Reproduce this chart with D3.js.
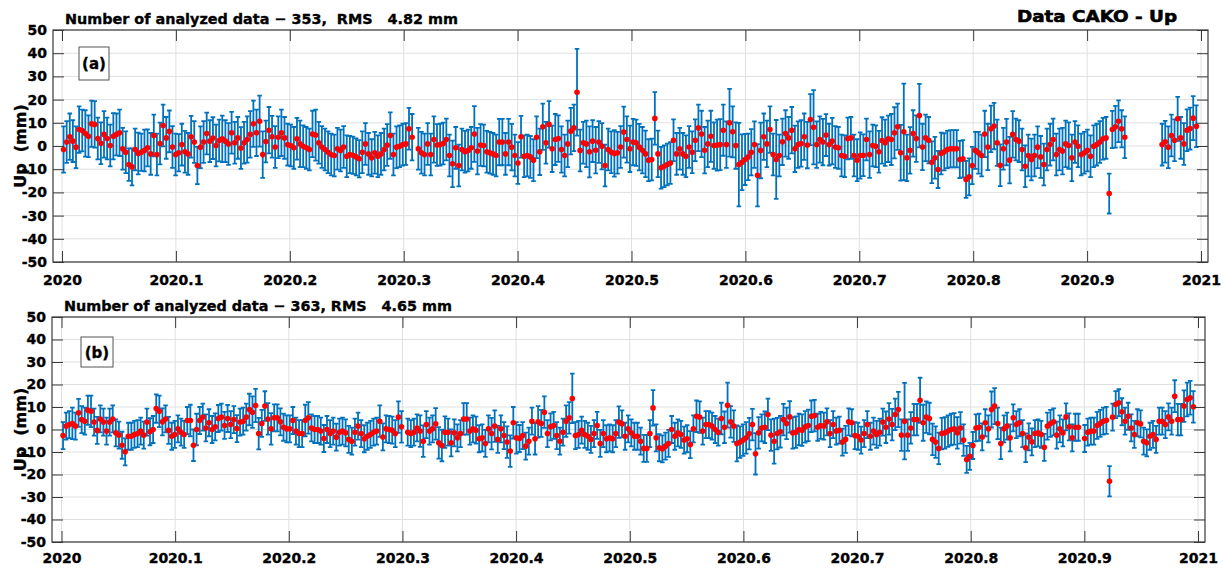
<!DOCTYPE html>
<html>
<head>
<meta charset="utf-8">
<script src="https://cdn.jsdelivr.net/npm/d3@7"></script>
<style>
  body { margin: 0; background: #fff; }
  text { font-family: "DejaVu Sans", sans-serif; font-weight: bold; }
  .heavy { stroke: #000; stroke-width: 0.35px; }
</style>
</head>
<body>
<div id="chart"></div>
<script>
// tick values / labels
const xTicks = [2020, 2020.1, 2020.2, 2020.3, 2020.4, 2020.5, 2020.6, 2020.7, 2020.8, 2020.9, 2021];
const xTickLabels = ["2020", "2020.1", "2020.2", "2020.3", "2020.4", "2020.5", "2020.6", "2020.7", "2020.8", "2020.9", "2021"];
const yTicks = [-50, -40, -30, -20, -10, 0, 10, 20, 30, 40, 50];
const daysInYear = 366;

// daily Up values (mm), panel (a), null = no solution that day
const upA = [
  -1.5, 1.7, 4.0, 2.1, -0.5, 7.1, 6.7, 5.4, 4.2, 9.6,
  9.3, 3.2, 1.2, 5.0, 3.2, 0.2, 4.2, 5.0, 5.7, -1.2,
  -2.7, -8.0, -9.0, -1.5, -3.2, -2.7, -1.9, -0.8, -3.4, 4.5,
  -3.7, 1.1, 8.8, 3.5, 6.3, -0.4, -3.7, -2.9, 0.6, -2.5,
  -3.4, 4.0, 1.7, -8.4, -0.5, 1.7, 5.4, 2.1, 3.4, 0.2,
  2.4, 3.1, 2.1, 0.9, 5.7, 1.4, 3.5, -0.9, 1.4, 2.8,
  5.0, 9.6, 5.7, 10.7, -3.7, 1.9, 6.8, 4.0, -0.4, 3.8,
  5.7, 3.5, 0.6,
  0.2, -0.8, 3.1, 0.9, -0.1, -0.8, -1.5, 5.2, 4.7, 1.4,
  -0.4, -1.5, -2.7, -3.7, -4.1, -1.2, -1.9, -0.4, -4.4, -3.7,
  -4.0, -4.7, -5.5, -2.7, 0.9, -3.4, -5.1, -2.9, -4.4, -3.4,
  -1.5, 0.4, 4.5, -3.7, -0.5, -0.1, 0.6, 0.9, 7.4, 3.8,
  null,
  -1.2, -2.9, -3.7, 0.9, -3.7, 2.8, 0.4, 0.6, 1.1, 2.8,
  -4.1, -7.7, -0.8, -8.4, -1.5, -2.5, -1.9, -0.8, 5.2, -2.2,
  0.4, 0.2, -2.5, -2.9, -3.4, -4.1, 1.7, 1.7, -3.4, 1.7,
  -0.5, -4.1, -7.3, 4.0, -4.4, -4.1,
  -4.7, -6.1, 3.8, -2.5, 8.3, 1.4, 9.3, -1.2, 2.8, 3.2,
  -1.5, -4.1, 0.9, 6.4, 7.8, 23.2, -1.9, 1.4, 0.9, -2.5,
  2.1, -1.8, 1.7, -0.1, -8.4, -1.5, -2.7, -3.2, -2.9, -0.4,
  6.0, 2.8, -1.2, 1.7, 1.4, -0.5, -1.8, -3.4, -6.1, -5.8,
  11.9, -3.4, -9.4, -8.7, -8.0, -7.3, 2.5, -3.4, -1.2, -3.4,
  -4.4, -0.4, -2.7, 2.5, 7.8, 5.2, -1.8, 0.9, 4.2, 0.2,
  0.4, 0.6, 6.8, 0.6, 10.0, 6.1, 0.2, -8.0, -7.0, -5.8,
  -4.7, -2.7, 0.6, -12.6, -1.9, 4.0,
  0.9, 7.1, -3.7, -5.8, -4.1, 1.8, 5.4, 3.5, 6.8, -1.2,
  0.6, 1.1, 4.0, 0.4, 11.4, 8.1, 0.6, 2.8, 1.7, 4.7,
  0.6, 2.1, -0.4, -0.8, -4.1, -4.4, 3.2, 3.5, -4.1, -6.1,
  -4.1, -4.0, 2.8, -3.7, 0.2, -0.1, -2.5, 2.4, 1.4, 3.1,
  2.8, 5.7, 8.3, -2.9, 6.1, -5.1, -1.9, 5.4, 3.2, 13.1,
  -0.4, 3.5, 2.5, -7.0, -5.1, -10.1, -3.2, -2.5, -1.5, -1.2,
  -1.2, -1.2, -5.8, -5.5, -14.4, -13.3, -8.4, -1.9, -2.9, -4.1,
  5.2, -0.4, 7.4, 8.6,
  1.4, -8.3, -1.2, 1.7, -6.1, 5.0, 2.8, 2.1, -1.5, -8.7,
  -4.1, -5.8, -4.1, -0.5, -4.7, -8.0, -1.5, 0.6, 2.8, -3.7,
  -1.5, -2.2, 0.9, 0.2, -5.1, 1.7, -0.1, -3.7, -2.9, -1.9,
  -4.4, -0.1, 0.6, 1.7, 3.1, 3.5, -20.5, 7.1, 8.3, 10.7,
  7.4, 3.8,
  null, null, null, null, null, null, null, null, null, null, null,
  0.6, 1.8, -0.5, 4.5, 2.5, 11.7, 3.5, 0.9, 6.8, 7.5, 12.0, 8.5,
  null
];

// formal error (mm), panel (a)
const sigA = [
  10, 9, 10, 9, 9, 10, 9, 10, 9, 10,
  10, 9, 9, 10, 9, 9, 10, 9, 10, 9,
  9, 7, 8, 9, 9, 8, 9, 8, 9, 9,
  9, 9, 9, 9, 9, 9, 9, 8, 9, 9,
  9, 9, 9, 8, 9, 9, 9, 9, 9, 9,
  9, 10, 9, 9, 9, 9, 9, 9, 9, 10,
  10, 10, 10, 11, 10, 9, 10, 9, 9, 9,
  10, 9, 9,
  9, 9, 9, 10, 9, 9, 9, 10, 11, 9,
  9, 9, 9, 9, 9, 9, 9, 9, 9, 8,
  8, 8, 8, 9, 9, 9, 8, 9, 9, 9,
  9, 9, 10, 9, 9, 9, 9, 9, 9, 10,
  null,
  9, 9, 9, 9, 9, 10, 9, 9, 9, 9,
  9, 10, 9, 9, 9, 9, 9, 9, 12, 10,
  9, 9, 9, 9, 9, 9, 10, 10, 9, 10,
  10, 9, 9, 9, 9, 9,
  9, 9, 9, 10, 10, 9, 10, 10, 11, 10,
  10, 9, 10, 10, 10, 18.7, 9, 9, 10, 11,
  9, 10, 9, 10, 9, 9, 9, 10, 9, 9,
  11, 10, 10, 10, 10, 10, 10, 10, 9, 9,
  11.3, 10, 9, 9, 9, 9, 9, 9, 9, 9,
  9, 9, 9, 9, 10, 10, 10, 10, 11, 10,
  11, 11, 11, 10, 14.6, 11, 10, 18, 12, 11,
  10, 10, 10, 13.4, 12, 10,
  10, 10, 9, 17, 9, 10, 10, 9, 10, 10,
  10, 10, 10, 10, 11, 16, 10, 10, 10, 9,
  9, 10, 9, 9, 9, 9, 9, 9, 9, 9,
  10, 9, 9, 10, 9, 9, 9, 10, 10, 10,
  11, 11, 10, 12, 20.8, 10, 10, 10, 10, 13.7,
  10, 10, 10, 9, 9, 8, 9, 8, 8, 8,
  8, 8, 8, 8, 8, 8, 8, 8, 9, 9,
  10, 10, 10, 10,
  10, 9, 9, 10, 10, 10, 9, 9, 9, 9,
  9, 9, 9, 9, 9, 9, 9, 9, 9, 9,
  9, 10, 10, 10, 10, 9, 9, 9, 9, 9,
  9, 9, 9, 9, 9, 9, 8.6, 8, 9, 9,
  8, 9,
  null, null, null, null, null, null, null, null, null, null, null,
  9, 9, 9, 9, 9, 9.5, 9, 9, 9, 9, 9.5, 9,
  null
];

// daily Up values (mm), panel (b)
const upB = [
  -2.7, 1.5, 2.2, 2.7, 1.5, 7.4, 4.4, 3.7, 8.6, 8.1,
  3.3, -0.4, 4.7, 3.3, -0.7, 3.3, 4.7, -1.5, -2.5, -7.0,
  -9.9, -3.0, -3.0, -2.2, -1.8, -0.7, -2.5, 3.3, -1.0, 0.0,
  9.3, 8.1, 3.4, 4.7, -0.4, -3.0, -2.2, 0.3, -1.2, -2.2,
  4.0, 4.0, -7.0, 0.0, 4.0, 5.5, 0.7, 3.0, 0.0, 1.2,
  4.9, 5.5, 1.8, 4.9, 2.2, 4.4, 0.4, 3.3, 3.7, 5.5,
  8.9, 7.7, 10.7, -1.8, 2.7, 10.4, 4.7, 0.3, 5.2, 5.2,
  3.4, 1.0, 0.3, 0.3,
  4.0, -0.7, -1.8, -1.8, 4.0, 5.2, 0.7, 0.0, 0.0, -0.7,
  -4.0, 0.0, -1.8, -0.7, -3.4, -1.2, -0.7, -1.5, -4.4, -5.2,
  -1.2, 1.5, -1.8, -4.1, -3.0, -2.2, -1.2, -0.7, 3.7, -3.3,
  0.3, 0.0, -0.3, -1.8, 5.5, 1.2, null,
  -1.2, -1.8, -1.2, 0.7, -0.7, -5.2, 2.2, -0.7, 0.3, 2.5,
  -5.9, -7.1, -1.2, -1.2, -5.9, -1.5, -3.7, -1.8, 4.7, 4.7,
  -0.7, 0.3, -0.3, -4.1, -3.7, -6.2, 0.3, -1.8, 1.5, -4.4,
  0.3, -2.7, -5.6, -9.6, 3.0, -3.7, -4.0, -2.7, -7.4,
  -5.2, 3.7, -4.1, 3.4, 2.7, 7.7, -1.8, 1.2, 1.8, -2.7,
  -5.2, -1.2, 3.7, 5.2, 13.8, -2.7, -2.2, -0.3, -2.2, -3.0,
  -4.4, -1.8, 1.8, -6.2, -1.8, -4.1, -3.7, -4.1, -1.8, 3.3,
  2.5, -3.0, 0.3, -1.5, -3.0, -3.0, -5.2, -8.4, -8.4, -1.8,
  9.6, -3.7, -8.1, -8.6, -7.4, -6.2, 0.0, -3.0, -1.5, -2.2,
  -4.7, -4.1, -6.7, 0.3, 5.9, 5.5, -0.7, 2.2, 2.2, 1.5,
  0.0, -1.2, 4.9, 1.0, 10.8, 3.4, 1.5, -6.2, -5.6, -4.7,
  -3.7, -1.8, 2.2, -10.8, -1.5, 0.7,
  1.0, 6.7, -2.5, -5.2, -1.8, -1.0, 4.4, 2.7, 5.6, -1.5,
  -1.2, 0.0, -0.3, 1.2, 1.8, 5.9, 6.2, 1.0, 1.8, 1.5,
  3.4, -1.8, 2.2, -0.7, -0.3, -5.6, -4.4, 3.4, 3.0, -2.7,
  -3.0, -4.7, -1.8, 2.2, -3.0, -0.7, -2.2, -1.2, 3.3, 1.0,
  4.7, 2.2, 6.7, 8.9, -2.5, 3.7, -2.5, 0.7, 4.4, 4.4,
  13.0, 3.0, 5.5, 4.9, -4.4, -5.6, -8.4, -1.8, -1.5, -0.7,
  0.0, 0.3, -1.5, 0.7, -4.7, -13.3, -11.9, -7.1, 0.7, 1.0,
  -3.3, 3.0, 0.3, 8.9, 10.4, 2.7, -6.2, 0.3, 1.5, -3.7,
  5.2, 2.2, 3.0, -1.8, -8.1, -3.3, -5.5, -1.8, -1.5, -2.2,
  -7.9, 1.5, 2.7, 3.4, -2.5, 0.3, -1.5, 5.6, 1.2, -3.7,
  1.0, 1.0, null, -4.0, -1.2, -0.7, -0.7, 1.8, 2.7, 3.7,
  4.1, -23.0, 5.5, 11.1, 11.9, 7.9, 3.7, 5.9, 0.7, -2.2,
  3.0, 2.5, -5.2, -5.9, -3.0, -2.2, -4.4, 3.7, 3.7, 2.2,
  5.6, 3.7, 14.8, 4.4, 4.4, 10.4, 13.3, 14.1, 10.1,
  null
];

// formal error (mm), panel (b)
const sigB = [
  6, 6, 6, 7, 6, 6.2, 6, 6, 6.5, 7,
  6, 6, 6, 6, 6, 6, 6, 6, 6, 6,
  6, 6, 6, 6, 6, 6, 6, 6, 6, 6,
  6.3, 7, 6, 6, 6, 6, 6, 6, 6, 6,
  6, 7, 7, 7, 6, 6, 6, 6, 6, 6,
  6, 6, 6, 6, 6, 6, 6, 6, 6, 6,
  7, 7, 7.4, 7, 6, 6.6, 7, 7, 6, 6,
  6, 6, 6, 6,
  6, 6, 6, 6, 7, 7, 6, 6, 6, 6,
  6, 6, 6, 6, 6, 6, 6, 6, 6, 6,
  6, 6, 6, 6, 6, 6, 6, 6, 7, 6,
  6, 6, 6, 6, 7, 7, null,
  6, 6, 6, 6, 7, 7, 6, 6, 6, 7,
  7, 7, 7, 6, 6, 6, 6, 6, 7, 7,
  6, 6, 6, 6, 6, 6, 6, 7, 7, 6,
  6, 6, 7, 7, 7, 7, 6, 6, 6,
  6, 6, 7, 7, 6, 7, 6, 6, 6, 6,
  6, 6, 7, 7, 11, 6, 6, 6, 6, 6,
  6, 6, 6, 6, 6, 6, 6, 6, 6, 7,
  6, 6, 6, 6, 6, 6, 6, 6, 6, 6,
  7.9, 6, 6, 6, 6, 6, 6, 6, 6, 6,
  6, 6, 6, 6, 7, 7, 6, 6, 6, 6,
  6, 6, 7, 7, 10, 7, 7, 8, 7, 7,
  7, 7, 7, 9.2, 7, 6,
  7, 7, 7, 10, 7, 7, 7, 7, 7, 7,
  7, 7, 7, 7, 7, 7, 7, 6, 6, 6,
  6, 6, 6, 6, 6, 6, 6, 6, 6, 6,
  6, 6, 6, 6, 6, 6, 6, 6, 6, 7,
  7, 7, 7, 7.8, 7, 17, 7, 7, 7, 7,
  10, 8, 7, 7, 7, 7, 7, 7, 7, 7,
  7, 7, 7, 7, 7, 6, 6, 6, 6, 6,
  6, 6, 6, 8, 8, 7, 7, 6, 6, 6,
  6, 6, 6, 6, 6.4, 6, 6, 6, 6, 6,
  6, 6, 6, 6, 6, 6, 6, 6, 6, 6,
  6, 6, null, 6, 6, 6, 6, 6, 6, 6,
  6, 6.7, 6, 6, 6, 6, 6, 6, 6, 6,
  6, 6, 6, 6, 6, 6, 6, 6, 6, 6,
  6, 6, 7.1, 7, 7, 7, 7.5, 7.5, 7,
  null
];

const barColor = "#0072bd";
const dotColor = "#ff0000";
const axisColor = "#3a3a3a";
const gridColor = "#e0e0e0";

const svg = d3.select("#chart").append("svg")
  .attr("width", 1223).attr("height", 570);

const panels = [
  {values: upA, sig: sigA, tag: "(a)",
   title: "Number of analyzed data \u2212 353,  RMS   4.82 mm", titleX: 65, titleY: 24, titleLen: 393,
   boxL: 53, boxR: 1208, x0: 62, x1: 1201, yTop: 30, yBot: 262, xPad: 13,
   tagBox: [79, 47, 30, 33]},
  {values: upB, sig: sigB, tag: "(b)",
   title: "Number of analyzed data \u2212 363, RMS   4.65 mm", titleX: 64, titleY: 311, titleLen: 388,
   boxL: 52, boxR: 1205, x0: 61.5, x1: 1198, yTop: 317, yBot: 542, xPad: 11,
   tagBox: [81, 337, 32, 30]}
];

panels.forEach((p, pi) => {
  const x = d3.scaleLinear().domain([2020, 2021]).range([p.x0, p.x1]);
  const y = d3.scaleLinear().domain([-50, 50]).range([p.yBot, p.yTop]);
  const g = svg.append("g");

  const clipId = "clip" + pi;
  g.append("clipPath").attr("id", clipId).append("rect")
    .attr("x", p.boxL).attr("y", p.yTop).attr("width", p.boxR - p.boxL).attr("height", p.yBot - p.yTop);

  // grid
  g.append("g").selectAll("line").data(xTicks).join("line")
    .attr("x1", d => x(d)).attr("x2", d => x(d))
    .attr("y1", p.yTop).attr("y2", p.yBot)
    .attr("stroke", gridColor).attr("stroke-width", 1);
  g.append("g").selectAll("line").data(yTicks).join("line")
    .attr("x1", p.boxL).attr("x2", p.boxR)
    .attr("y1", d => y(d)).attr("y2", d => y(d))
    .attr("stroke", gridColor).attr("stroke-width", 1);

  const pts = p.values
    .map((v, i) => ({t: 2020 + (i + 0.5) / daysInYear, v: v, s: p.sig[i]}))
    .filter(d => d.v !== null);

  const plot = g.append("g").attr("clip-path", `url(#${clipId})`);

  // error bars
  plot.append("g").selectAll("path").data(pts).join("path")
    .attr("d", d => {
      const xx = x(d.t), y1 = y(d.v + d.s), y2 = y(d.v - d.s);
      return `M${xx},${y1}V${y2}M${xx - 2.3},${y1}H${xx + 2.3}M${xx - 2.3},${y2}H${xx + 2.3}`;
    })
    .attr("fill", "none").attr("stroke", barColor).attr("stroke-width", 1.8);

  // markers
  plot.append("g").selectAll("circle").data(pts).join("circle")
    .attr("cx", d => x(d.t)).attr("cy", d => y(d.v))
    .attr("r", 2.8).attr("fill", dotColor);

  // axes (ticks inward, box on)
  const styleAxis = sel => sel.attr("color", axisColor)
    .attr("font-family", "DejaVu Sans, sans-serif").attr("font-size", 14).attr("font-weight", "bold");

  const gx = g.append("g").attr("transform", `translate(0,${p.yBot})`)
    .call(d3.axisBottom(x).tickValues(xTicks).tickFormat((d, i) => xTickLabels[i])
      .tickSizeInner(-11).tickSizeOuter(0).tickPadding(p.xPad));
  styleAxis(gx);
  gx.selectAll("text").attr("fill", "#000").attr("class", "heavy");

  const gxt = g.append("g").attr("transform", `translate(0,${p.yTop})`)
    .call(d3.axisTop(x).tickValues(xTicks).tickFormat("").tickSizeInner(-11).tickSizeOuter(0));
  styleAxis(gxt);

  const gy = g.append("g").attr("transform", `translate(${p.boxL},0)`)
    .call(d3.axisLeft(y).tickValues(yTicks).tickFormat(d3.format("d"))
      .tickSizeInner(-11).tickSizeOuter(0).tickPadding(6));
  styleAxis(gy);
  gy.selectAll("text").attr("fill", "#000").attr("class", "heavy")
    .text(d => d < 0 ? "-" + Math.abs(d) : d);

  const gyr = g.append("g").attr("transform", `translate(${p.boxR},0)`)
    .call(d3.axisRight(y).tickValues(yTicks).tickFormat("").tickSizeInner(-11).tickSizeOuter(0));
  styleAxis(gyr);

  [gx, gxt, gy, gyr].forEach(a => a.select(".domain").remove());

  g.append("rect")
    .attr("x", p.boxL).attr("y", p.yTop)
    .attr("width", p.boxR - p.boxL).attr("height", p.yBot - p.yTop)
    .attr("fill", "none").attr("stroke", axisColor).attr("stroke-width", 1.2);

  // panel tag
  const [bx, by, bw, bh] = p.tagBox;
  g.append("rect").attr("x", bx).attr("y", by).attr("width", bw).attr("height", bh)
    .attr("fill", "#fff").attr("stroke", "#555").attr("stroke-width", 1);
  g.append("text").attr("x", bx + bw / 2).attr("y", by + bh / 2 + 5.5)
    .attr("class", "heavy")
    .attr("text-anchor", "middle").attr("font-size", 15).text(p.tag);

  // title
  g.append("text").attr("x", p.titleX).attr("y", p.titleY)
    .attr("class", "heavy")
    .attr("font-size", 14.5).style("white-space", "pre")
    .attr("textLength", p.titleLen).attr("lengthAdjust", "spacingAndGlyphs")
    .text(p.title);

  // y label
  g.append("text")
    .attr("transform", `translate(26,${y(0)}) rotate(-90)`)
    .attr("class", "heavy")
    .attr("text-anchor", "middle").attr("font-size", 16).style("white-space", "pre")
    .text("Up  (mm)");
});

svg.append("text").attr("x", 1017).attr("y", 22)
  .attr("font-size", 16).attr("stroke", "#000").attr("stroke-width", 0.6)
  .attr("textLength", 160).attr("lengthAdjust", "spacingAndGlyphs")
  .text("Data CAKO - Up");
</script>
</body>
</html>
